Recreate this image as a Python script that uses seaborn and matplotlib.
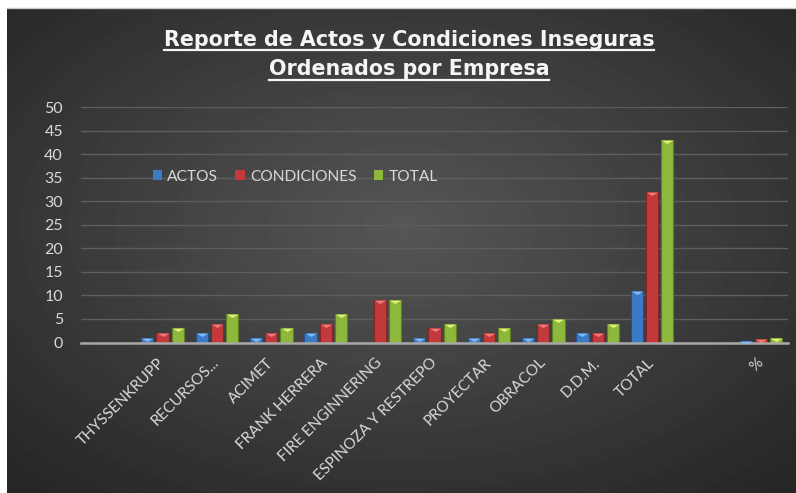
import numpy as np
import pandas as pd
from matplotlib import pyplot as plt
from matplotlib.lines import Line2D
import seaborn as sns

# fuentes
plt.rcParams["font.family"] = ["Lato", "DejaVu Sans"]
plt.rcParams["axes.unicode_minus"] = False

# ****************************** datos ******************************
empresas = ['', 'THYSSENKRUPP', 'RECURSOS...', 'ACIMET', 'FRANK HERRERA', 'FIRE ENGINNERING',
            'ESPINOZA Y RESTREPO', 'PROYECTAR', 'OBRACOL', 'D.D.M.', 'TOTAL', ' ', '%']
actos = [np.nan, 1, 2, 1, 2, 0, 1, 1, 1, 2, 11, np.nan, 0.26]
condiciones = [np.nan, 2, 4, 2, 4, 9, 3, 2, 4, 2, 32, np.nan, 0.74]
total = [np.nan, 3, 6, 3, 6, 9, 4, 3, 5, 4, 43, np.nan, 1.0]
series = ['ACTOS', 'CONDICIONES', 'TOTAL']
colores = ['#3b7ac6', '#c23a3b', '#8db83b']
colores_borde = ['#24518a', '#862426', '#5f8124']
colores_tapa = ['#86b8f2', '#f27a7a', '#e0f27a']
titulo1 = 'Reporte de Actos y Condiciones Inseguras'
titulo2 = 'Ordenados por Empresa'

df = pd.DataFrame({'empresa': empresas, 'ACTOS': actos, 'CONDICIONES': condiciones, 'TOTAL': total})
df_largo = df.melt(id_vars='empresa', var_name='tipo', value_name='cantidad')

# ****************************** figura ******************************
fig = plt.figure(figsize=(7.96, 4.93), dpi=100, facecolor='white')

# fondo con degradado radial
ax_fondo = fig.add_axes([7 / 796, 0, 789 / 796, 485 / 493])
yy, xx = np.mgrid[0:485, 0:789]
r = np.sqrt(((xx - 0.50 * 789) / 789) ** 2 + ((yy - 0.45 * 485) / 485) ** 2)
fondo = 86 - (86 - 38) * np.clip(r / 0.72, 0, 1)
ax_fondo.imshow(fondo, cmap='gray', vmin=0, vmax=255, aspect='auto', interpolation='bilinear')
ax_fondo.axis('off')
fig.add_artist(Line2D([7 / 796, 1], [485 / 493, 485 / 493], color='#c8c8c8', lw=1))

ax = fig.add_axes([81 / 796, 1 - 342.5 / 493, 707 / 796, 235.2 / 493])
ax.set_facecolor('none')

sns.barplot(data=df_largo, x='empresa', y='cantidad', hue='tipo', order=empresas,
            hue_order=series, palette=colores, width=0.84, gap=0.2,
            errorbar=None, ax=ax, linewidth=0.8, saturation=1)

# borde y tapa biselada de cada barra
for cont, borde, tapa in zip(ax.containers, colores_borde, colores_tapa):
    for p in cont.patches:
        p.set_edgecolor(borde)
        h = p.get_height()
        if np.isfinite(h) and h > 0:
            ax.plot(p.get_x() + p.get_width() / 2, h,
                    marker=[(-1, 0), (1, 0), (0, -0.6)], markersize=8.4,
                    color=tapa, markeredgewidth=0, zorder=5)

ax.set_ylim(0, 50)
ax.set_yticks(range(0, 51, 5))
ax.set_xlim(-0.5, len(empresas) - 0.5)
ax.set_xlabel('')
ax.set_ylabel('')
ax.grid(axis='y', color='#5e5e5e', lw=1)
ax.set_axisbelow(True)
for s in ['top', 'right', 'left']:
    ax.spines[s].set_visible(False)
ax.spines['bottom'].set_color('#a8a8a8')
ax.spines['bottom'].set_linewidth(1.8)
ax.tick_params(axis='y', length=0, pad=13, labelsize=11.5, labelcolor='#d9d9d9')
ax.tick_params(axis='x', length=0, pad=13, labelsize=11, labelcolor='#d9d9d9')
for t in ax.get_xticklabels():
    t.set_rotation(45)
    t.set_ha('right')
    t.set_va('center')
    t.set_rotation_mode('anchor')

handles, labels = ax.get_legend_handles_labels()
ax.legend(handles, labels, loc='center', bbox_to_anchor=(0.303, 0.704), ncol=3,
          frameon=False, handlelength=0.6, handleheight=0.6, handletextpad=0.35,
          columnspacing=1.1, fontsize=11.2, labelcolor='#d9d9d9')

# titulo subrayado
t1 = fig.text(0.514, 1 - 46 / 493, titulo1, ha='center', va='baseline', color='#f5f5f5',
              fontsize=14.9, fontweight='bold', family='DejaVu Sans')
t2 = fig.text(0.514, 1 - 75 / 493, titulo2, ha='center', va='baseline', color='#f5f5f5',
              fontsize=14.9, fontweight='bold', family='DejaVu Sans')
fig.canvas.draw()
for t, y_sub in [(t1, 50), (t2, 80)]:
    bb = t.get_window_extent()
    fig.add_artist(Line2D([bb.x0 / 796, bb.x1 / 796], [1 - y_sub / 493, 1 - y_sub / 493],
                          color='#f5f5f5', lw=1.6))

plt.savefig('out.png', dpi=100)
